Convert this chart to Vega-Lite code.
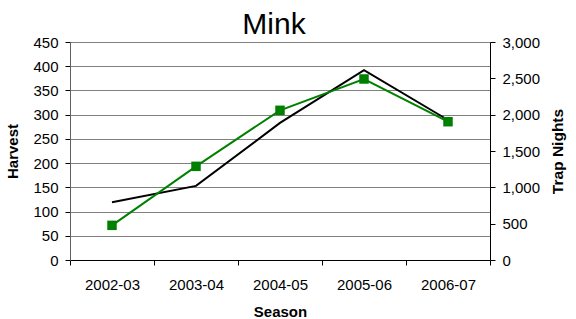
{
  "$schema": "https://vega.github.io/schema/vega-lite/v6.json",
  "width": 420,
  "height": 218,
  "autosize": {"type": "none"},
  "padding": {"left": 70, "top": 42, "right": 86, "bottom": 59},
  "background": "white",
  "config": {
    "font": "Liberation Sans",
    "view": {"stroke": null},
    "axis": {"labelFont": "Liberation Sans", "titleFont": "Liberation Sans", "labelColor": "black", "titleColor": "black"}
  },
  "title": {
    "text": "Mink",
    "fontSize": 30,
    "fontWeight": "normal",
    "color": "black",
    "anchor": "middle",
    "baseline": "bottom",
    "offset": 0,
    "dx": -6,
    "dy": 35
  },
  "data": {
    "values": [
      {"Season": "2002-03", "Harvest": 119, "TrapNights": 477},
      {"Season": "2003-04", "Harvest": 153, "TrapNights": 1289},
      {"Season": "2004-05", "Harvest": 283, "TrapNights": 2060},
      {"Season": "2005-06", "Harvest": 392, "TrapNights": 2491},
      {"Season": "2006-07", "Harvest": 289, "TrapNights": 1903}
    ]
  },
  "encoding": {
    "x": {
      "field": "Season",
      "type": "ordinal",
      "bandPosition": 0.5,
      "scale": {"type": "band", "paddingInner": 0, "paddingOuter": 0},
      "axis": {
        "title": "Season",
        "labelAngle": 0,
        "tickBand": "extent",
        "domainColor": "black",
        "tickColor": "black",
        "tickSize": 5,
        "labelFontSize": 15,
        "labelPadding": 12,
        "titleFontSize": 15,
        "titleFontWeight": "bold",
        "titlePadding": 12,
        "grid": false
      }
    }
  },
  "layer": [
    {
      "mark": {"type": "line", "color": "black", "strokeWidth": 2},
      "encoding": {
        "y": {
          "field": "Harvest",
          "type": "quantitative",
          "scale": {"domain": [0, 450], "nice": false},
          "axis": {
            "title": "Harvest",
            "values": [0, 50, 100, 150, 200, 250, 300, 350, 400, 450],
            "grid": true,
            "gridColor": "#808080",
            "gridWidth": 1,
            "gridOpacity": 1,
            "domainColor": "#606060",
            "tickColor": "black",
            "tickSize": 5,
            "labelFontSize": 15,
            "labelPadding": 7,
            "titleFontSize": 15,
            "titleFontWeight": "bold",
            "titlePadding": 12
          }
        }
      }
    },
    {
      "mark": {"type": "line", "color": "#008000", "strokeWidth": 2, "point": {"shape": "square", "size": 90, "color": "#008000", "filled": true, "opacity": 1}},
      "encoding": {
        "y": {
          "field": "TrapNights",
          "type": "quantitative",
          "scale": {"domain": [0, 3000], "nice": false},
          "axis": {
            "title": "Trap Nights",
            "orient": "right",
            "format": ",.0f",
            "values": [0, 500, 1000, 1500, 2000, 2500, 3000],
            "grid": false,
            "domainColor": "black",
            "tickColor": "black",
            "tickSize": 5,
            "labelFontSize": 15,
            "labelPadding": 7,
            "titleFontSize": 15.5,
            "titleFontWeight": "bold",
            "titleAngle": 270,
            "titleBaseline": "top",
            "titlePadding": 11
          }
        }
      }
    }
  ],
  "resolve": {"scale": {"y": "independent"}}
}
